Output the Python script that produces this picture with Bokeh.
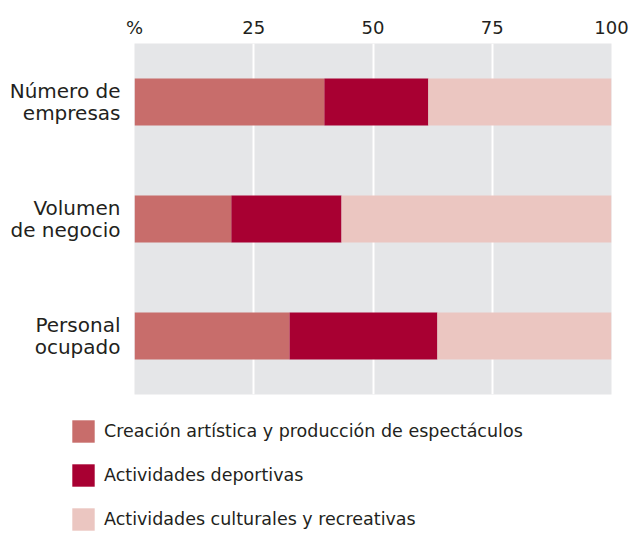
from bokeh.plotting import figure
from bokeh.models import ColumnDataSource, FactorRange, FixedTicker, Legend, LegendItem
from bokeh.embed import file_html
from bokeh.resources import INLINE

categories = ["Número de\nempresas", "Volumen\nde negocio", "Personal\nocupado"]
series_names = ["Creación artística y producción de espectáculos",
                "Actividades deportivas",
                "Actividades culturales y recreativas"]
creacion = [39.8, 20.3, 32.5]
deportivas = [21.8, 23.1, 31.0]
culturales = [38.4, 56.6, 36.5]
tick_values = [0, 25, 50, 75, 100]
tick_labels = ["%", "25", "50", "75", "100"]

colors = ["#C86D6B", "#A80032", "#EBC6C1"]
keys = ["creacion", "deportivas", "culturales"]
FONT = "DejaVu Sans"
TXT = "#231f20"

source = ColumnDataSource(dict(cat=categories, creacion=creacion,
                               deportivas=deportivas, culturales=culturales))

p = figure(frame_width=477, frame_height=351, output_backend="svg", toolbar_location=None,
           x_range=(0, 100), y_range=FactorRange(factors=list(reversed(categories)), range_padding=0),
           x_axis_location="above",
           min_border_left=134, min_border_right=21, min_border_top=43, min_border_bottom=6)

renderers = p.hbar_stack(keys, y="cat", height=0.4, color=colors, line_width=0, source=source)

p.background_fill_color = "#E5E6E8"
p.border_fill_color = "white"
p.outline_line_color = None

xa = p.xaxis[0]
xa.ticker = FixedTicker(ticks=tick_values)
xa.major_label_overrides = {v: l for v, l in zip(tick_values, tick_labels)}
xa.axis_line_color = None
xa.major_tick_line_color = None
xa.minor_tick_line_color = None
xa.major_tick_out = 0
xa.major_tick_in = 0
xa.major_label_standoff = 6
xa.major_label_text_font = FONT
xa.major_label_text_font_size = "18px"
xa.major_label_text_color = TXT

ya = p.yaxis[0]
ya.axis_line_color = None
ya.major_tick_line_color = None
ya.minor_tick_line_color = None
ya.major_tick_out = 0
ya.major_tick_in = 0
ya.major_label_standoff = 14
ya.major_label_text_font = FONT
ya.major_label_text_font_size = "20px"
ya.major_label_text_color = TXT
ya.major_label_text_align = "right"
ya.major_label_text_line_height = 0.95

p.ygrid.grid_line_color = None
p.xgrid.ticker = FixedTicker(ticks=[25, 50, 75])
p.xgrid.grid_line_color = "white"
p.xgrid.grid_line_width = 2

# legend panel (separate root so its frame is not aligned with the chart)
lg = figure(width=632, height=133, output_backend="svg", toolbar_location=None,
            x_range=(0, 1), y_range=(0, 1), x_axis_type=None, y_axis_type=None,
            min_border=0)
lg.grid.grid_line_color = None
lg.outline_line_color = None
lg.background_fill_color = "white"
lg.border_fill_color = "white"
# legend swatches reuse the colours; the swatch source lies outside the visible range
swatch = ColumnDataSource(dict(y=[-5], right=[-5]))
legend_renderers = [lg.hbar(y="y", right="right", height=0.5, color=c, line_width=0, source=swatch)
                    for c in colors]
items = [LegendItem(label=n, renderers=[r]) for n, r in zip(series_names, legend_renderers)]
legend = Legend(items=items, location=(69, 0), padding=0, margin=0, spacing=16,
                glyph_width=28, glyph_height=28, label_height=28, label_standoff=7,
                label_text_font=FONT, label_text_font_size="17.5px", label_text_color=TXT,
                background_fill_alpha=0, border_line_color=None)
lg.add_layout(legend, "center")

open("out.html", "w").write(file_html([p, lg], INLINE))
